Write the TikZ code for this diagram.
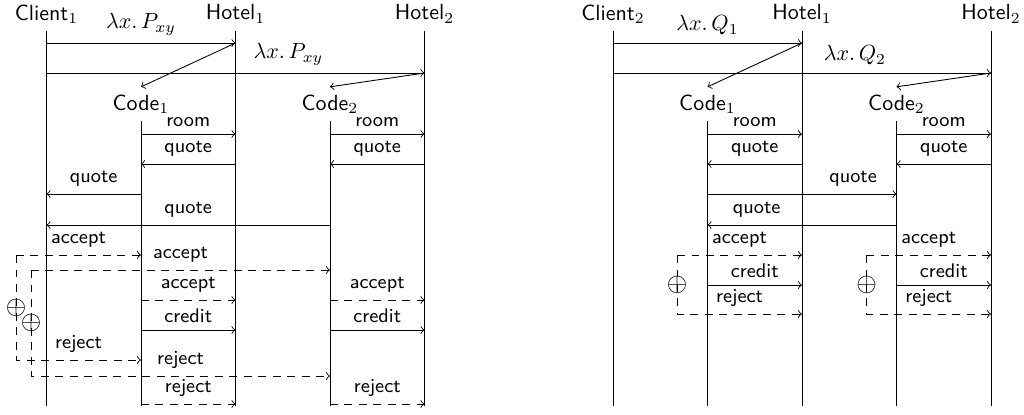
\documentclass[tikz,border=0pt]{standalone}
\usepackage{amsmath}
\usepackage{tikz}

\begin{document}
\begin{tikzpicture}[x=0.016cm,y=-0.016cm,>=to,
    every node/.style={font=\sffamily},
    msg/.style={above,font=\sffamily\small},
    lam/.style={above},
    sum/.style={inner sep=0pt,font=\large},
    choice/.style={dash pattern=on 3.6pt off 3pt,->}]
    \useasboundingbox (0,0) rectangle (1024,414);

    % rows of the messages
    \coordinate (r1) at (0,43);
    \coordinate (r2) at (0,73);
    \coordinate (r3) at (0,134);
    \coordinate (r4) at (0,164);
    \coordinate (r5) at (0,194);
    \coordinate (r6) at (0,225);
    \coordinate (r7) at (0,255);
    \coordinate (r8) at (0,270);
    \coordinate (r9) at (0,300);
    \coordinate (r10) at (0,330);
    \coordinate (r11) at (0,360);
    \coordinate (r12) at (0,376);
    \coordinate (r13) at (0,404);
    \coordinate (q8) at (0,285);
    \coordinate (q9) at (0,314);
    \coordinate (bot) at (0,406);

    % left
    \node (Cl1) at (46.5,14) {Client$_1$};
    \node (Hl1) at (235.5,14) {Hotel$_1$};
    \node (Hl2) at (424.5,14) {Hotel$_2$};
    \node (Cd1) at (141,104) {Code$_1$};
    \node (Cd2) at (330,104) {Code$_2$};

    % right
    \node (Cr2) at (613,14) {Client$_2$};
    \node (Hr1) at (802,14) {Hotel$_1$};
    \node (Hr2) at (991,14) {Hotel$_2$};
    \node (Dr1) at (707.5,104) {Code$_1$};
    \node (Dr2) at (896.5,104) {Code$_2$};

    \foreach \n in {Cl1,Hl1,Hl2,Cd1,Cd2,Cr2,Hr1,Hr2,Dr1,Dr2}
        \draw (\n.south) -- (\n |- bot);

    \coordinate (o1) at (16,0);
    \coordinate (o2) at (31,0);
    \coordinate (o3) at (677,0);
    \coordinate (o4) at (866.5,0);

	\draw[->]  (Cl1 |- r1) -- node[lam] (l1) {$\lambda x.\, P_{xy}$} (Hl1 |- r1);
	\draw[->]  (Hl1 |- r1) -- (Cd1.north);
	\draw[->]  (Cl1 |- r2) -- node[lam,pos=0.64] (l2) {$\lambda x.\, P_{xy}$} (Hl2 |- r2);
	\draw[->]  (Hl2 |- r2) -- (Cd2.north);

	\draw[->]  (Cd1 |- r3) -- node[msg] (a1) {room} (Hl1 |- r3);
	\draw[->]  (Hl1 |- r4) -- node[msg] (a2) {quote} (Cd1 |- r4);
	\draw[->]  (Cd2 |- r3) -- node[msg] (a3) {room} (Hl2 |- r3);
	\draw[->]  (Hl2 |- r4) -- node[msg] (a4) {quote} (Cd2 |- r4);
	\draw[->]  (Cd1 |- r5) -- node[msg] (a5) {quote} (Cl1 |- r5);
	\draw[->]  (Cd2 |- r6) -- node[msg] (a6) {quote} (Cl1 |- r6);

	\draw[choice]  (o1 |- r7) -- node[msg] (a7) {accept} (Cd1 |- r7);
	\draw[choice]  (o1 |- r7) -- node[sum] (s1) {$\oplus$} (o1 |- r11)
	                          -- node[msg] (a8) {reject} (Cd1 |- r11);
	\draw[choice]  (o2 |- r8) -- node[msg] (a9) {accept} (Cd2 |- r8);
	\draw[choice]  (o2 |- r8) -- node[sum] (s2) {$\oplus$} (o2 |- r12)
	                          -- node[msg] (a10) {reject} (Cd2 |- r12);

	\draw[choice]  (Cd1 |- r9) -- node[msg] (a11) {accept} (Hl1 |- r9);
	\draw[->]      (Cd1 |- r10) -- node[msg] (a12) {credit} (Hl1 |- r10);
	\draw[choice]  (Cd1 |- r13) -- node[msg] (a13) {reject} (Hl1 |- r13);
	\draw[choice]  (Cd2 |- r9) -- node[msg] (a14) {accept} (Hl2 |- r9);
	\draw[->]      (Cd2 |- r10) -- node[msg] (a15) {credit} (Hl2 |- r10);
	\draw[choice]  (Cd2 |- r13) -- node[msg] (a16) {reject} (Hl2 |- r13);

	\draw[->]  (Cr2 |- r1) -- node[lam] (l3) {$\lambda x.\, Q_1$} (Hr1 |- r1);
	\draw[->]  (Hr1 |- r1) -- (Dr1.north);
	\draw[->]  (Cr2 |- r2) -- node[lam,pos=0.64] (l4) {$\lambda x.\, Q_2$} (Hr2 |- r2);
	\draw[->]  (Hr2 |- r2) -- (Dr2.north);

	\draw[->]  (Dr1 |- r3) -- node[msg] (b1) {room} (Hr1 |- r3);
	\draw[->]  (Hr1 |- r4) -- node[msg] (b2) {quote} (Dr1 |- r4);
	\draw[->]  (Dr2 |- r3) -- node[msg] (b3) {room} (Hr2 |- r3);
	\draw[->]  (Hr2 |- r4) -- node[msg] (b4) {quote} (Dr2 |- r4);
	\draw[->]  (Dr1 |- r5) -- node[msg,pos=0.77] (b5) {quote} (Dr2 |- r5);
	\draw[->]  (Dr2 |- r6) -- node[msg,pos=0.74] (b6) {quote} (Dr1 |- r6);

	\draw[choice]  (o3 |- r7) -- node[msg] (b7) {accept} (Hr1 |- r7);
	\draw[choice]  (o3 |- r7) -- node[sum] (s3) {$\oplus$} (o3 |- q9)
	                          -- node[msg] (b8) {reject} (Hr1 |- q9);
	\draw[->]      (Dr1 |- q8) -- node[msg] (b9) {credit} (Hr1 |- q8);
	\draw[choice]  (o4 |- r7) -- node[msg] (b10) {accept} (Hr2 |- r7);
	\draw[choice]  (o4 |- r7) -- node[sum] (s4) {$\oplus$} (o4 |- q9)
	                          -- node[msg] (b11) {reject} (Hr2 |- q9);
	\draw[->]      (Dr2 |- q8) -- node[msg] (b12) {credit} (Hr2 |- q8);

\end{tikzpicture}
\end{document}
